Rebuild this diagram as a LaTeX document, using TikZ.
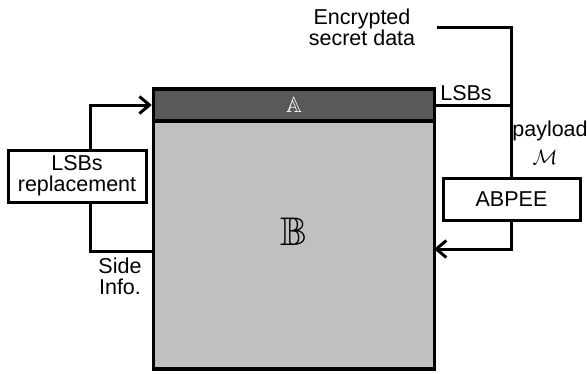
\documentclass[tikz,border=0pt]{standalone}
\usepackage{amssymb}
\usepackage{fontspec}
\setmainfont{Liberation Sans}
\usetikzlibrary{positioning,arrows.meta}

\definecolor{bandgray}{HTML}{595959}
\definecolor{blockgray}{HTML}{C0C0C0}

\tikzset{
	wire/.style = {line width=3pt},
	tip/.style = {-{Straight Barb[length=10pt, width=17pt]}},
	proc/.style = {draw, line width=3pt, fill=white, align=center, inner sep=0pt},
	txt/.style = {align=center, inner sep=0pt},
}

\begin{document}
\begin{tikzpicture}[x=1pt, y=-1pt, font=\fontsize{21.5}{21}\selectfont]
	\useasboundingbox (0,0) rectangle (587,373);
	% image blocks
	\node [draw, line width=3.5pt, fill=blockgray, minimum width=281pt, minimum height=248pt, inner sep=0pt] (B) at (294,245) {};
	\node [draw, line width=3.5pt, fill=bandgray, text=white, minimum width=281pt, minimum height=32pt, inner sep=0pt,
		font=\fontsize{22}{22}\selectfont] (A) at (294,105) {$\mathbb{A}$};
	\node [font=\fontsize{40}{40}\selectfont] (Blab) at (294,232) {$\mathbb{B}$};
	% processing boxes
	\node [proc, minimum width=138pt, minimum height=52pt] (repl) at (77,176) {LSBs\\replacement};
	\node [proc, minimum width=137pt, minimum height=42pt] (abpee) at (511.5,199) {ABPEE};
	% labels
	\node [txt] (enc) at (362,27) {Encrypted\\secret data};
	\node [txt] (lsb) at (466,93) {LSBs};
	\node [txt] (pay) at (550,131) {payload};
	\node [txt] (msg) at (545,157) {$\mathcal{M}$};
	\node [txt] (side) at (120,276) {Side\\Info.};
	\coordinate (sideIn) at (154,251);
	\coordinate (embIn) at (434,249);
	% connections
	\draw [wire, shorten <=22pt] (enc.east) -| (abpee.north);
	\draw [wire] (A.east) -| (abpee.north);
	\draw [wire, tip] ([xshift=13pt]repl.north) |- (A.west);
	\draw [wire] ([xshift=13pt]repl.south) |- (sideIn);
	\draw [wire, tip] (abpee.south) |- (embIn);
\end{tikzpicture}
\end{document}
